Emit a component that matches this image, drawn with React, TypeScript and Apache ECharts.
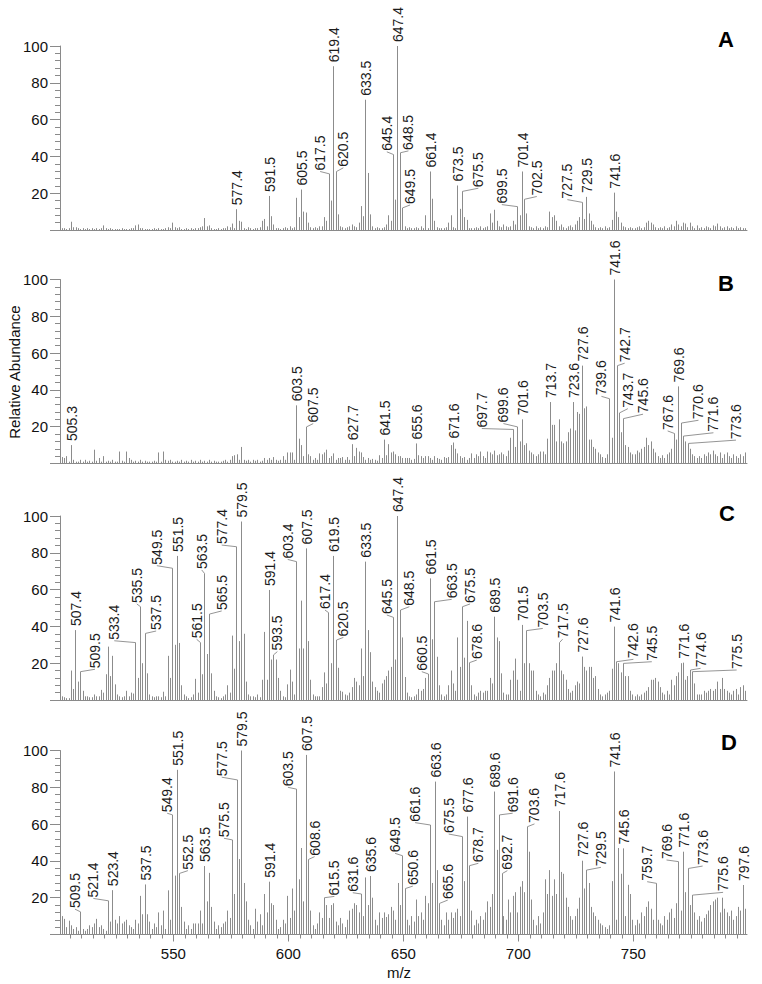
import React, { useEffect, useRef } from 'react';
import * as echarts from 'echarts';

// ---------- DATA ----------
// background sticks: one value per m/z slot, slot i at m/z = 500.5 + i
const BG_START = 500.5;

const bgA = [
  0, 1, 1, 0.5, 1, 4.5, 1.5, 1.5, 1, 0.5,
  1, 0.5, 1, 0.5, 1, 0.5, 1, 0.5, 1, 2.5,
  1, 0.5, 1, 0.5, 0.5, 0.5, 0.5, 1, 0.5, 0.5,
  0.5, 1, 1, 2.5, 3, 1, 1, 0.5, 0.5, 0.5,
  0.5, 1, 0.5, 1, 0.5, 0.5, 1, 1.5, 1, 4,
  1.5, 1, 1.5, 0.5, 0.5, 1, 0.5, 1, 0.5, 1,
  1, 1.5, 2, 6.5, 2, 2.5, 1, 0.5, 0.5, 1,
  0.5, 1, 1, 2, 1.5, 3.5, 1, 0, 5, 4.5,
  1, 0.5, 1.5, 1, 0.5, 1, 1, 1.5, 5, 6,
  2, 0, 7.5, 3, 1, 1, 0.5, 1, 1.5, 1,
  2, 1, 1.5, 17.5, 7, 0, 10, 9.5, 4, 1.5,
  1, 1.5, 1, 2, 2, 7, 5, 0, 16, 0,
  0, 8.5, 2, 1.5, 1, 1.5, 2, 3, 2, 1.5,
  4, 13, 7.5, 0, 31, 8.5, 2, 1, 1.5, 1,
  1, 1.5, 3, 8, 5, 0, 16.5, 0, 0, 0,
  2, 1, 1.5, 1, 1, 1.5, 1, 2, 1, 8,
  1, 0, 17, 5, 1.5, 1, 1, 1, 1.5, 4,
  8, 1.5, 1, 0, 11.5, 0, 7, 5.5, 1, 1,
  1, 1.5, 1, 2, 1, 1.5, 2, 9, 4, 11,
  5, 2, 1.5, 3, 2, 1.5, 2, 5, 3, 0,
  8, 0, 0, 9, 2, 1.5, 1, 2, 1, 1.5,
  1, 2, 1.5, 10, 7, 8, 5, 2, 3, 1.5,
  1, 2, 2.5, 1.5, 3, 5, 7, 0, 6, 0,
  9, 5, 3, 1.5, 1, 1.5, 1, 2, 1, 1.5,
  5.5, 0, 10, 7, 4, 2, 1.5, 1, 1.5, 1,
  1, 1.5, 2, 1, 1.5, 4, 5, 4, 3, 1.5,
  1, 1.5, 1, 2, 1, 1.5, 3, 2, 5, 3,
  2, 4, 3.5, 1.5, 4, 2, 1, 2.5, 1, 1.5,
  1, 2, 1.5, 1, 2.5, 2, 3.5, 2, 1, 1.5,
  2, 1, 1.5, 1, 2, 1, 1.5, 1, 1, 0,
];

const bgB = [
  0, 3.5, 3, 4, 1, 0, 2, 1, 1, 2,
  1, 2, 1, 1.5, 1, 7.5, 1.5, 3, 1, 4,
  1, 1.5, 1, 2, 1, 1, 6.5, 1.5, 1, 6.5,
  3, 2, 1, 1.5, 1, 2, 1, 1.5, 1, 1,
  1, 1.5, 1, 6, 1, 6.5, 2, 1.5, 2, 1,
  1, 1.5, 1, 2, 1, 1.5, 1, 2, 1, 1.5,
  1, 2, 1, 1.5, 1, 2, 1, 1.5, 1, 1,
  1, 1.5, 2, 1, 2, 4, 4.5, 5, 2, 9,
  2, 1.5, 2, 1, 2, 1.5, 2, 1, 1.5, 3,
  2, 3, 2, 3.5, 2, 1.5, 2, 4, 2, 6,
  6, 6, 2, 0, 13.5, 10, 4, 0, 5, 4,
  2, 3, 2, 5.5, 5, 6, 7.5, 3, 4, 5.5,
  2, 3, 3, 3.5, 2, 3.5, 2, 0, 4, 8.5,
  6.5, 6, 3.5, 2, 3, 2, 2.5, 2, 1.5, 4.5,
  3, 0, 4.5, 10.5, 6, 6.5, 5, 4, 4, 3,
  3, 3, 3, 2, 2.5, 0, 4.5, 4, 3, 4,
  4, 3, 2, 4, 3, 2.5, 2, 3.5, 3, 3.5,
  10, 0, 8, 5.5, 4, 3, 3.5, 2, 3, 5.5,
  3, 5, 4, 6.5, 4, 3, 6.5, 6, 5, 7,
  4.5, 5, 6, 5, 4, 7, 14, 0, 9, 0,
  12, 0, 10, 11, 7, 6, 5, 4, 5, 6.5,
  6.5, 5, 13.5, 0, 21, 21, 12, 24, 12, 11,
  12, 17, 19, 0, 18, 28, 27, 0, 30, 31,
  13, 13, 9, 8, 6, 5, 3.5, 3, 5, 0,
  14, 0, 0, 0, 17, 0, 10, 9, 6, 5,
  5, 7, 6, 8, 9, 14, 10, 12, 8, 6,
  4, 3, 4.5, 3, 5, 6, 8, 0, 13, 0,
  0, 0, 12, 0, 8, 5, 4, 3, 4, 3,
  5, 4, 6, 5, 7, 5, 4, 6, 3, 5,
  6, 4, 3, 5, 4, 3, 5, 4, 6, 0,
];

const bgC = [
  0, 2, 1.5, 1, 1, 16, 6, 0, 10, 0,
  5, 2, 2, 1.5, 1.5, 3, 2, 2, 5.5, 4,
  14, 29, 13, 24, 8.5, 3, 2, 1.5, 2, 5,
  2, 4, 3.5, 0, 12, 0, 20, 0, 14.5, 3,
  2, 1.5, 2, 2, 1.5, 4.5, 2, 24, 12, 0,
  30, 0, 31, 8, 3, 2, 1, 1.5, 3, 11.5,
  4, 0, 14, 0, 25, 0, 14.5, 5, 2, 1.5,
  1, 2, 3, 8, 4, 35, 17, 0, 32, 0,
  36, 10, 3, 2, 2, 1.5, 3, 1.5, 11, 37,
  11, 0, 22, 0, 22, 12, 5, 2, 1.5, 8.5,
  16.5, 10, 3, 0, 28, 54, 28, 0, 32, 11,
  3, 2, 2, 2, 7, 15, 9, 0, 20, 0,
  0, 17.5, 5, 4.5, 3, 2.5, 4, 7, 12, 10,
  8, 28, 13, 0, 38, 26, 10, 7, 5, 4,
  9, 11, 13, 16, 18, 0, 22, 0, 0, 34,
  12.5, 4, 2, 1.5, 2, 3, 6, 5, 6, 12,
  0, 0, 33, 0, 23.5, 8, 3, 2, 3, 8,
  16, 9, 5, 34, 18, 0, 23, 43, 0, 8,
  3, 2, 4, 5, 4, 5, 5, 12, 9, 0,
  34, 32, 14.5, 4, 3, 3, 11, 16, 22.5, 11,
  5, 0, 20, 0, 20, 16, 16, 5, 3, 2,
  4, 3, 8, 12, 16, 16, 20, 0, 16, 14,
  11, 6, 4, 5, 8, 10, 9, 0, 18, 16,
  18, 18, 12, 13, 6, 3, 2, 3, 4, 5,
  17, 0, 0, 20, 15, 0, 13, 13, 5, 3,
  2, 3, 2, 3, 4, 5, 7, 11, 11, 12,
  10, 7, 4, 3, 5, 3, 11, 8, 13, 15,
  20, 0, 11, 13, 0, 0, 9, 3, 3, 3,
  5, 4, 5, 6, 5, 6, 10, 6, 12, 6,
  5, 4, 3, 5, 6, 3, 7, 8, 5, 0,
];

const bgD = [
  0, 10, 8.5, 4, 7.5, 5, 3, 4, 2, 0,
  3, 2, 3, 5, 4, 6, 8.5, 4, 5, 3,
  2, 0, 7, 0, 8, 6, 10, 6, 7, 8,
  5, 4, 3, 8, 6, 21, 11, 0, 11, 7,
  3, 6, 4, 12, 5, 13, 3, 24, 8, 0,
  32, 0, 0, 15, 7, 3, 5, 3, 6, 6,
  6, 13, 6, 0, 18, 33.5, 15, 7, 3, 5,
  4, 6, 7, 13, 9, 0, 22, 0, 41, 0,
  28, 18, 8, 5, 3, 14, 7, 11, 5, 22,
  12, 0, 17, 16, 8, 3, 4, 8, 6, 21,
  9, 25, 13, 0, 30, 47, 18, 0, 0, 13,
  5, 3, 6, 12, 9, 0, 16, 9, 16, 17,
  7, 5, 9, 6, 4, 8, 13, 14, 17, 16,
  12, 0, 10, 31, 16, 0, 20, 8, 5, 12,
  9, 12, 9.5, 11, 15, 13, 8, 28, 16, 0,
  0, 8, 5, 10, 7, 19, 10, 12, 8, 21,
  17, 0, 28, 0, 35, 0, 8, 5, 12, 8,
  12, 9, 12, 14, 10, 0, 29, 0, 0, 13,
  5, 8, 6, 10, 8, 12, 18, 15, 22, 0,
  46, 0, 0, 10, 8, 19, 12, 21, 23, 12,
  26, 29, 23, 0, 45, 19, 8, 5, 10, 6,
  12, 30, 22, 35, 21, 30, 22, 0, 34, 33,
  20, 15, 10, 8, 10, 14, 20, 0, 25, 0,
  28, 15, 12, 10, 8, 6, 5, 4, 3, 5,
  29, 0, 8, 47, 33, 0, 10, 27, 22, 8,
  5, 8, 6, 12, 10, 15, 18, 14, 8, 0,
  8, 6, 5, 10, 8, 12, 14, 9, 17, 0,
  13, 0, 23, 0, 16, 0, 12, 8, 10, 7,
  9, 11, 13, 16, 18, 19, 20, 12, 20, 14,
  12, 10, 13, 8, 10, 15, 13, 0, 14, 0,
];

// labelled peaks (m/z, relative abundance)
const peakMzA = [577.4, 591.5, 605.5, 617.5, 619.4, 620.5, 633.5, 645.4, 647.4, 648.5, 649.5, 661.4, 673.5, 675.5, 699.5, 701.4, 702.5, 727.5, 729.5, 741.6];
const peakIntA = [11.3, 18.5, 22, 30.5, 89, 31.8, 70.8, 41, 100, 42, 12, 31.8, 24.2, 21, 12.7, 31.8, 16.7, 15, 18, 20.3];

const peakMzB = [505.3, 603.5, 607.5, 627.7, 641.5, 655.6, 671.6, 697.7, 699.6, 701.6, 713.7, 723.6, 727.6, 739.6, 741.6, 742.7, 743.7, 745.6, 767.6, 769.6, 770.6, 771.6, 773.6];
const peakIntB = [10, 31.6, 19.9, 10.5, 13, 10.9, 11.4, 18.5, 19.9, 24, 33.4, 33.4, 53.2, 35.2, 100, 53.2, 27.5, 24.4, 16.3, 41.9, 22, 14.9, 10.9];

const peakMzC = [507.4, 509.5, 533.4, 535.5, 537.5, 549.5, 551.5, 561.5, 563.5, 565.5, 577.4, 579.5, 591.4, 593.5, 603.4, 607.5, 617.4, 619.5, 620.5, 633.5, 645.5, 647.4, 648.5, 660.5, 661.5, 663.5, 675.5, 678.6, 689.5, 701.5, 703.5, 717.5, 727.6, 741.6, 742.6, 745.5, 771.6, 774.6, 775.5];
const peakIntC = [38, 15.4, 31.2, 50.7, 36.2, 71.6, 78.3, 31.2, 68.8, 46.7, 83.3, 97, 59.8, 24.5, 75.2, 82.4, 47.5, 78.3, 32.6, 75.2, 44.9, 100, 48.9, 14.1, 66.1, 53.4, 50.7, 20.3, 45.3, 40.8, 37.7, 31.2, 23.6, 39.9, 20.8, 19.9, 20.3, 16.3, 15.4];

const peakMzD = [509.5, 521.4, 523.4, 537.5, 549.4, 551.5, 552.5, 563.5, 575.5, 577.5, 579.5, 591.4, 603.5, 607.5, 608.6, 615.5, 631.6, 635.6, 649.5, 650.6, 661.6, 663.6, 665.6, 675.5, 677.6, 678.7, 689.6, 691.6, 692.7, 703.6, 717.6, 727.6, 729.5, 741.6, 745.6, 759.7, 769.6, 771.6, 773.6, 775.6, 797.6];
const peakIntD = [12.3, 18.3, 24.1, 27.2, 65, 89.5, 33.2, 37.2, 51.4, 84, 100, 28.7, 79, 97.6, 40.8, 20, 22, 31.8, 42.8, 25, 59.5, 83.1, 16.9, 53.2, 64.1, 37.4, 77.7, 65, 33.2, 58.6, 67.1, 40.1, 35, 88.6, 46.8, 27.8, 39.6, 45, 35.9, 21.4, 26.9];

const xTickLabels = [550, 600, 650, 700, 750];

// ---------- LAYOUT (label anchor [m/z, abundance] of offset labels; null = directly above) ----------
const labelPosA = [null, null, null, [613.8, 31.8], null, [623.9, 33.8], null, [642.8, 42.5], null, [652.2, 43], [652.9, 13.6], null, null, [682.6, 22.7], [692.8, 13.8], null, [708, 18.2], [721.3, 16.5], null, null];
const labelPosB = [null, null, [610.8, 21.7], null, null, null, null, [684.1, 19], [693.5, 21.7], null, null, null, null, [736.1, 36.5], null, [746.2, 54.5], [747.6, 29.8], [754.2, 26.8], [764.9, 17.7], null, [778.3, 23.5], [784.8, 16.7], [794.6, 12.7]];
const labelPosC = [null, [515.9, 16.7], [524.3, 32.2], [534.1, 52.2], [542.5, 37.5], [542.8, 73], null, [560.1, 33], [562.3, 70.7], [571, 48.4], [571, 84.2], null, null, [595.2, 26.3], [599.7, 76.4], null, [615.9, 48.9], null, [623.9, 34], null, [642.8, 46.2], null, [652.6, 50.7], [658, 15.4], null, [671, 54.7], [679, 52.2], [681.9, 21.7], null, null, [710.6, 38.9], [719.2, 33], null, null, [750, 22.1], [758, 20.8], null, [779.2, 17.2], [794.9, 16.3]];
const labelPosD = [[507.2, 13.8], [515.2, 19.6], null, null, [547.3, 65.9], null, [556.3, 34.7], null, [572, 52.3], [571, 85.5], null, null, [599.8, 80], null, [611.4, 42.3], [620, 20.7], [628, 22.7], null, [646.4, 44.1], [654.1, 26.3], [655.1, 60.8], null, [669.3, 18.7], [669.7, 54.6], null, [682.6, 38.7], null, [697.5, 65.9], [695.2, 34.7], [707, 60.1], null, null, [735.9, 36.5], null, null, [756, 28.7], [764.4, 40.5], null, [780.1, 37.2], [789, 22.9], null];

const X_MIN = 500.7;
const X_MAX = 799.4;
const GRID_TOPS = [46, 279.5, 516, 750.5];
const GRID_H = 184;
const FONT = '"Liberation Sans", Arial, Helvetica, sans-serif';
const STICK = '#8c8c8c';
const AXIS = '#8a8a8a';

function stickData(bg: number[], mz: number[], inten: number[]) {
  const out: number[][] = [];
  bg.forEach((v, i) => {
    const x = BG_START + i;
    if (v > 0 && x > X_MIN && x < X_MAX) out.push([x, v]);
  });
  mz.forEach((m, i) => out.push([m, inten[i]]));
  return out;
}

function labelData(mz: number[], inten: number[], pos: (number[] | null)[]) {
  return mz.map((m, i) => {
    const p = pos[i];
    return p ? [m, inten[i], p[0], p[1], 1] : [m, inten[i], m, inten[i], 0];
  });
}

const renderStick = (params: any, api: any) => {
  const x = api.value(0);
  const v = api.value(1);
  const a = api.coord([x, 0]);
  const b = api.coord([x, v]);
  const px = Math.round(a[0]) + 0.5;
  return {
    type: 'line',
    shape: { x1: px, y1: a[1], x2: px, y2: b[1] },
    style: { stroke: STICK, lineWidth: 1 },
  };
};

const renderLabel = (params: any, api: any) => {
  const pm = api.value(0);
  const pv = api.value(1);
  const lm = api.value(2);
  const lv = api.value(3);
  const lead = api.value(4);
  const p = api.coord([pm, pv]);
  const l = api.coord([lm, lv]);
  const children: any[] = [];
  let tx: number;
  let ty: number;
  if (lead) {
    children.push({
      type: 'line',
      shape: { x1: Math.round(p[0]) + 0.5, y1: p[1], x2: l[0], y2: l[1] },
      style: { stroke: '#7a7a7a', lineWidth: 0.8 },
    });
    tx = l[0];
    ty = l[1] - 1;
  } else {
    tx = Math.round(p[0]) + 0.5;
    ty = p[1] - 4;
  }
  children.push({
    type: 'text',
    x: tx,
    y: ty,
    rotation: Math.PI / 2,
    style: {
      text: pm.toFixed(1),
      fill: '#1c1c1c',
      font: '14px ' + FONT,
      align: 'left',
      verticalAlign: 'middle',
      textAlign: 'left',
      textVerticalAlign: 'middle',
    },
  });
  return { type: 'group', children };
};

export default function App() {
  const ref = useRef<HTMLDivElement>(null);

  useEffect(() => {
    if (!ref.current) return;
    const chart = echarts.init(ref.current, undefined, { renderer: 'svg' });

    const panels = [
      { bg: bgA, mz: peakMzA, it: peakIntA, pos: labelPosA },
      { bg: bgB, mz: peakMzB, it: peakIntB, pos: labelPosB },
      { bg: bgC, mz: peakMzC, it: peakIntC, pos: labelPosC },
      { bg: bgD, mz: peakMzD, it: peakIntD, pos: labelPosD },
    ];
    const letters = ['A', 'B', 'C', 'D'];
    const letterPos = [[726, 39], [726, 283], [727, 513], [729, 742]];

    const grid = GRID_TOPS.map((t) => ({ left: 60, right: 15, top: t, height: GRID_H }));

    const xAxis: any[] = GRID_TOPS.map((_, i) => {
      const last = i === 3;
      return {
        type: 'value',
        gridIndex: i,
        min: X_MIN,
        max: X_MAX,
        position: 'bottom',
        axisLine: { show: true, lineStyle: { color: AXIS, width: 1 } },
        axisTick: last
          ? { show: true, customValues: xTickLabels, length: 7, lineStyle: { color: AXIS } }
          : { show: false },
        axisLabel: last
          ? { show: true, customValues: xTickLabels, fontSize: 15, color: '#111', margin: 11, fontFamily: FONT }
          : { show: false },
        splitLine: { show: false },
      };
    });
    const minorVals: number[] = [];
    for (let v = 505; v < 800; v += 5) if (v % 50 !== 0) minorVals.push(v);
    xAxis.push({
      type: 'value',
      gridIndex: 3,
      min: X_MIN,
      max: X_MAX,
      position: 'bottom',
      axisLine: { show: false },
      axisTick: { show: true, customValues: minorVals, length: 4, lineStyle: { color: AXIS } },
      axisLabel: { show: false },
      splitLine: { show: false },
    });

    const yAxis = GRID_TOPS.map((_, i) => ({
      type: 'value',
      gridIndex: i,
      min: 0,
      max: 100,
      interval: 20,
      axisLine: { show: true, lineStyle: { color: AXIS, width: 1 } },
      axisTick: { show: true, length: 10, lineStyle: { color: AXIS } },
      minorTick: { show: true, splitNumber: 5, length: 5, lineStyle: { color: AXIS } },
      axisLabel: {
        fontSize: 15,
        color: '#111',
        margin: 12,
        fontFamily: FONT,
        formatter: (v: number) => (v === 0 ? '' : String(v)),
      },
      splitLine: { show: false },
    }));

    const series: any[] = [];
    panels.forEach((p, i) => {
      series.push({
        type: 'custom',
        xAxisIndex: i,
        yAxisIndex: i,
        silent: true,
        clip: false,
        encode: { x: 0, y: 1 },
        renderItem: renderStick,
        data: stickData(p.bg, p.mz, p.it),
      });
      series.push({
        type: 'custom',
        xAxisIndex: i,
        yAxisIndex: i,
        silent: true,
        clip: false,
        encode: { x: 0, y: 1 },
        renderItem: renderLabel,
        data: labelData(p.mz, p.it, p.pos),
      });
    });

    const graphic: any[] = letters.map((t, i) => ({
      type: 'text',
      x: letterPos[i][0],
      y: letterPos[i][1],
      style: {
        text: t,
        fill: '#000',
        font: 'bold 22px ' + FONT,
        align: 'center',
        verticalAlign: 'middle',
        textAlign: 'center',
        textVerticalAlign: 'middle',
      },
    }));
    graphic.push({
      type: 'text',
      x: 14,
      y: 372,
      rotation: Math.PI / 2,
      style: {
        text: 'Relative Abundance',
        fill: '#111',
        font: '15px ' + FONT,
        align: 'center',
        verticalAlign: 'middle',
        textAlign: 'center',
        textVerticalAlign: 'middle',
      },
    });
    graphic.push({
      type: 'text',
      x: 399,
      y: 972,
      style: {
        text: 'm/z',
        fill: '#111',
        font: '15px ' + FONT,
        align: 'center',
        verticalAlign: 'middle',
        textAlign: 'center',
        textVerticalAlign: 'middle',
      },
    });

    chart.setOption({
      animation: false,
      backgroundColor: '#ffffff',
      grid,
      xAxis,
      yAxis,
      series,
      graphic,
    });

    return () => chart.dispose();
  }, []);

  return (
    <div
      ref={ref}
      style={{ position: 'fixed', left: 0, top: 0, width: 762, height: 984, background: '#fff' }}
    />
  );
}
